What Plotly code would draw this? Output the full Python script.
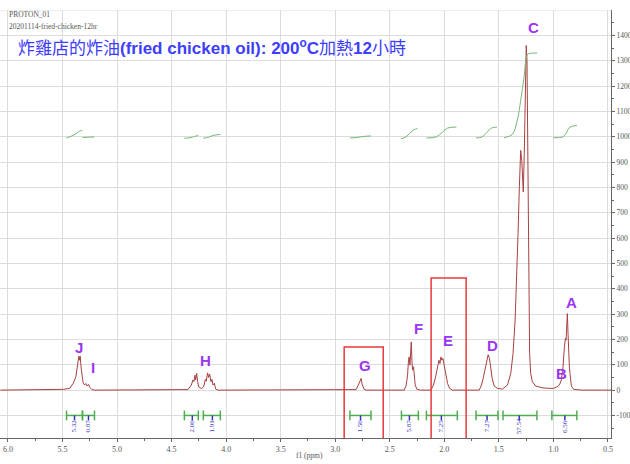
import plotly.graph_objects as go

# ---------------- data ----------------
spec_ppm = [6.07, 5.60, 5.494, 5.433, 5.402, 5.378, 5.359, 5.350, 5.344, 5.338, 5.329, 5.320, 5.311,
            5.298, 5.286, 5.274, 5.262, 5.250, 5.231, 5.204, 4.60,
            4.35, 4.319, 4.304, 4.295, 4.286, 4.280, 4.270, 4.261, 4.252, 4.227, 4.206, 4.191, 4.182,
            4.170, 4.160, 4.151, 4.139, 4.130, 4.121, 4.108, 4.096, 4.075, 3.50,
            2.84, 2.809, 2.788, 2.776, 2.763, 2.754, 2.745, 2.735, 2.717,
            2.367, 2.349, 2.337, 2.328, 2.322, 2.315, 2.310, 2.303, 2.297, 2.291, 2.282, 2.276, 2.267,
            2.251, 2.215,
            2.123, 2.099, 2.080, 2.062, 2.049, 2.040, 2.031, 2.022, 2.013, 2.001, 1.986, 1.970, 1.952, 1.925,
            1.680, 1.659, 1.641, 1.622, 1.607, 1.598, 1.586, 1.573, 1.561, 1.543, 1.513, 1.467,
            1.421, 1.391, 1.370, 1.351, 1.336, 1.324, 1.312, 1.300, 1.290, 1.282, 1.276, 1.267, 1.258,
            1.249, 1.242, 1.236, 1.230, 1.224, 1.218, 1.208, 1.193, 1.162, 1.101, 1.043, 0.997,
            0.967, 0.945, 0.927, 0.912, 0.899, 0.890, 0.884, 0.878, 0.872, 0.866, 0.860, 0.853, 0.848,
            0.835, 0.814, 0.738, 0.47]
spec_int = [0, 1, 3, 7, 27, 52, 98, 134, 118, 134, 87, 40, 29,
            20, 26, 16, 22, 11, 2, 0, 0,
            2, 20, 40, 34, 59, 40, 66, 33, 13, 6, 13, 42, 35,
            68, 50, 63, 33, 42, 20, 27, 4, 0, 0,
            0, 2, 20, 33, 46, 24, 16, 3, 0,
            0, 20, 59, 118, 131, 98, 158, 190, 118, 79, 92, 59, 20,
            3, 0,
            0, 20, 52, 92, 118, 105, 131, 118, 125, 98, 59, 26, 7, 0,
            0, 20, 52, 98, 131, 140, 125, 86, 46, 16, 7, 4,
            20, 66, 145, 276, 434, 618, 802, 946, 907, 828, 782, 933, 1196,
            1360, 1301, 934, 540, 276, 145, 66, 33, 16, 9, 7, 7,
            13, 20, 40, 92, 171, 204, 197, 276, 302, 224, 92, 86, 66,
            16, 3, 0, 0]

# integral curves (one list per region)
integ_ppm = [
    [5.466, 5.420, 5.375, 5.344, 5.320],
    [5.317, 5.262, 5.207],
    [4.383, 4.330, 4.290, 4.255],
    [4.209, 4.160, 4.120, 4.053],
    [2.865, 2.800, 2.740, 2.672],
    [2.398, 2.352, 2.306, 2.276, 2.246],
    [2.163, 2.077, 2.016, 1.971, 1.889],
    [1.709, 1.654, 1.608, 1.568, 1.517],
    [1.453, 1.377, 1.331, 1.300, 1.269, 1.248, 1.230, 1.148],
    [1.000, 0.915, 0.884, 0.854, 0.784],
]
integ_val = [
    [995, 1002, 1012, 1022, 1025],
    [997, 998, 999],
    [994, 996, 1001, 1005],
    [994, 998, 1005, 1009],
    [995, 997, 1001, 1003],
    [992, 999, 1018, 1028, 1032],
    [995, 999, 1018, 1034, 1038],
    [995, 999, 1018, 1034, 1038],
    [996, 1009, 1065, 1143, 1235, 1314, 1327, 1330],
    [996, 999, 1012, 1036, 1045],
]

# integration ranges and values
int_start = [5.463, 5.317, 4.383, 4.209, 2.865, 2.393, 2.164, 1.709, 1.462, 1.014]
int_end = [5.317, 5.207, 4.255, 4.053, 2.672, 2.238, 1.881, 1.508, 1.151, 0.785]
int_mid = [5.390, 5.262, 4.310, 4.126, 2.768, 2.320, 2.027, 1.608, 1.313, 0.895]
int_labels = ["5.32", "0.87", "2.00", "1.91", "1.50", "5.87", "7.25", "7.27", "57.54", "6.56"]
int_level = -100

# peak letters
peak_names = ["J", "I", "H", "G", "F", "E", "D", "C", "B", "A"]
peak_x = [5.353, 5.225, 4.190, 2.725, 2.240, 1.965, 1.562, 1.187, 0.930, 0.830]
peak_y = [170, 91, 118, 99, 244, 197, 177, 1431, 67, 347]

# highlighted regions (red boxes)
box_x0 = [2.918, 2.121]
box_x1 = [2.560, 1.800]
box_top = [170, 442]

x_ticks = [6.0, 5.5, 5.0, 4.5, 4.0, 3.5, 3.0, 2.5, 2.0, 1.5, 1.0, 0.5]
y_ticks = list(range(-100, 1500, 100))
y_top = 1500

# ---------------- figure ----------------
SERIF = "Liberation Serif, DejaVu Serif, serif"
fig = go.Figure()

fig.add_trace(go.Scatter(x=spec_ppm, y=spec_int, mode="lines",
                         line=dict(color="#a84040", width=1), hoverinfo="skip"))

gx, gy = [], []
for xs, ys in zip(integ_ppm, integ_val):
    gx += xs + [None]
    gy += ys + [None]
fig.add_trace(go.Scatter(x=gx, y=gy, mode="lines", line=dict(color="#74b874", width=1, shape="spline"),
                         hoverinfo="skip"))

# integral bars
bx, by = [], []
for s, e in zip(int_start, int_end):
    bx += [s, e, None]
    by += [int_level, int_level, None]
fig.add_trace(go.Scatter(x=bx, y=by, mode="lines", line=dict(color="#4cae4c", width=1.5), hoverinfo="skip"))
fig.add_trace(go.Scatter(x=int_start + int_end, y=[int_level] * (2 * len(int_start)), mode="markers",
                         marker=dict(symbol="line-ns", size=7, line=dict(color="#4cae4c", width=1.5)),
                         hoverinfo="skip"))
tx, ty = [], []
for m in int_mid:
    tx += [m, m, None]
    ty += [int_level, int_level - 20, None]
fig.add_trace(go.Scatter(x=tx, y=ty, mode="lines", line=dict(color="#3535c0", width=1.5), hoverinfo="skip"))

for m, lab in zip(int_mid, int_labels):
    fig.add_annotation(x=m, y=int_level - 42, text=lab, textangle=-90, showarrow=False,
                       font=dict(family=SERIF, size=7, color="#3a3ac0"), xanchor="center", yanchor="middle")

for n, px, py in zip(peak_names, peak_x, peak_y):
    fig.add_annotation(x=px, y=py, text="<b>%s</b>" % n, showarrow=False,
                       font=dict(family="Liberation Sans, Arial, sans-serif", size=15, color="#9b35f5"),
                       xanchor="center", yanchor="middle")

for x0, x1, top in zip(box_x0, box_x1, box_top):
    fig.add_shape(type="rect", xref="x", yref="y", x0=x0, x1=x1, y0=-260, y1=top,
                  line=dict(color="#e8383d", width=1.5))

# top frame gridline
fig.add_shape(type="line", xref="paper", yref="y", x0=0, x1=1, y0=y_top, y1=y_top,
              line=dict(color="#dcdcdc", width=1), layer="below")

# header texts
fig.add_annotation(xref="paper", yref="paper", x=0.012, y=0.99, xanchor="left", yanchor="middle",
                   text="PROTON_01", showarrow=False, font=dict(family=SERIF, size=7.5, color="#555555"))
fig.add_annotation(xref="paper", yref="paper", x=0.012, y=0.962, xanchor="left", yanchor="middle",
                   text="20201114-fried-chicken-12hr", showarrow=False,
                   font=dict(family=SERIF, size=7.5, color="#555555"))
fig.add_annotation(xref="paper", yref="paper", x=0.026, y=0.9136, xanchor="left", yanchor="middle",
                   text="炸雞店的炸油<b>(fried chicken oil): 200<sup>o</sup>C</b>加熱<b>12</b>小時",
                   showarrow=False,
                   font=dict(family="Liberation Sans, Noto Sans CJK TC, sans-serif", size=17, color="#3d3dff"))
fig.add_annotation(xref="paper", yref="paper", x=0.5065, y=-0.040, xanchor="center", yanchor="middle",
                   text="f1 (ppm)", showarrow=False, font=dict(family=SERIF, size=7.5, color="#555555"))

fig.update_layout(
    width=630, height=464,
    margin=dict(l=0, r=19, t=10, b=26, autoexpand=False),
    paper_bgcolor="white", plot_bgcolor="white",
    showlegend=False,
    xaxis=dict(range=[6.073, 0.472], tickvals=x_ticks, ticktext=["%.1f" % v for v in x_ticks],
               showgrid=True, gridcolor="#dcdcdc", gridwidth=1, zeroline=False,
               showline=True, linecolor="#666666", linewidth=1,
               ticks="outside", ticklen=3, tickcolor="#666666",
               tickfont=dict(family=SERIF, size=8, color="#555555"),
               minor=dict(tickvals=[5.75, 5.25, 4.75, 4.25, 3.75, 3.25, 2.75, 2.25, 1.75, 1.25, 0.75],
                          ticks="outside", ticklen=2, tickcolor="#666666", showgrid=False),
               automargin=False, fixedrange=True),
    yaxis=dict(range=[-189, 1500], side="right", tickvals=y_ticks,
               ticktext=[str(v) for v in y_ticks],
               showgrid=True, gridcolor="#dcdcdc", gridwidth=1, zeroline=False,
               showline=True, linecolor="#666666", linewidth=1,
               ticks="outside", ticklen=3, tickcolor="#666666",
               tickfont=dict(family=SERIF, size=7.5, color="#555555"),
               minor=dict(tickvals=[v + 50 for v in range(-200, 1500, 100)], ticks="outside", ticklen=2,
                          tickcolor="#666666", showgrid=False),
               automargin=False, fixedrange=True),
)

fig.write_html("out.html")
